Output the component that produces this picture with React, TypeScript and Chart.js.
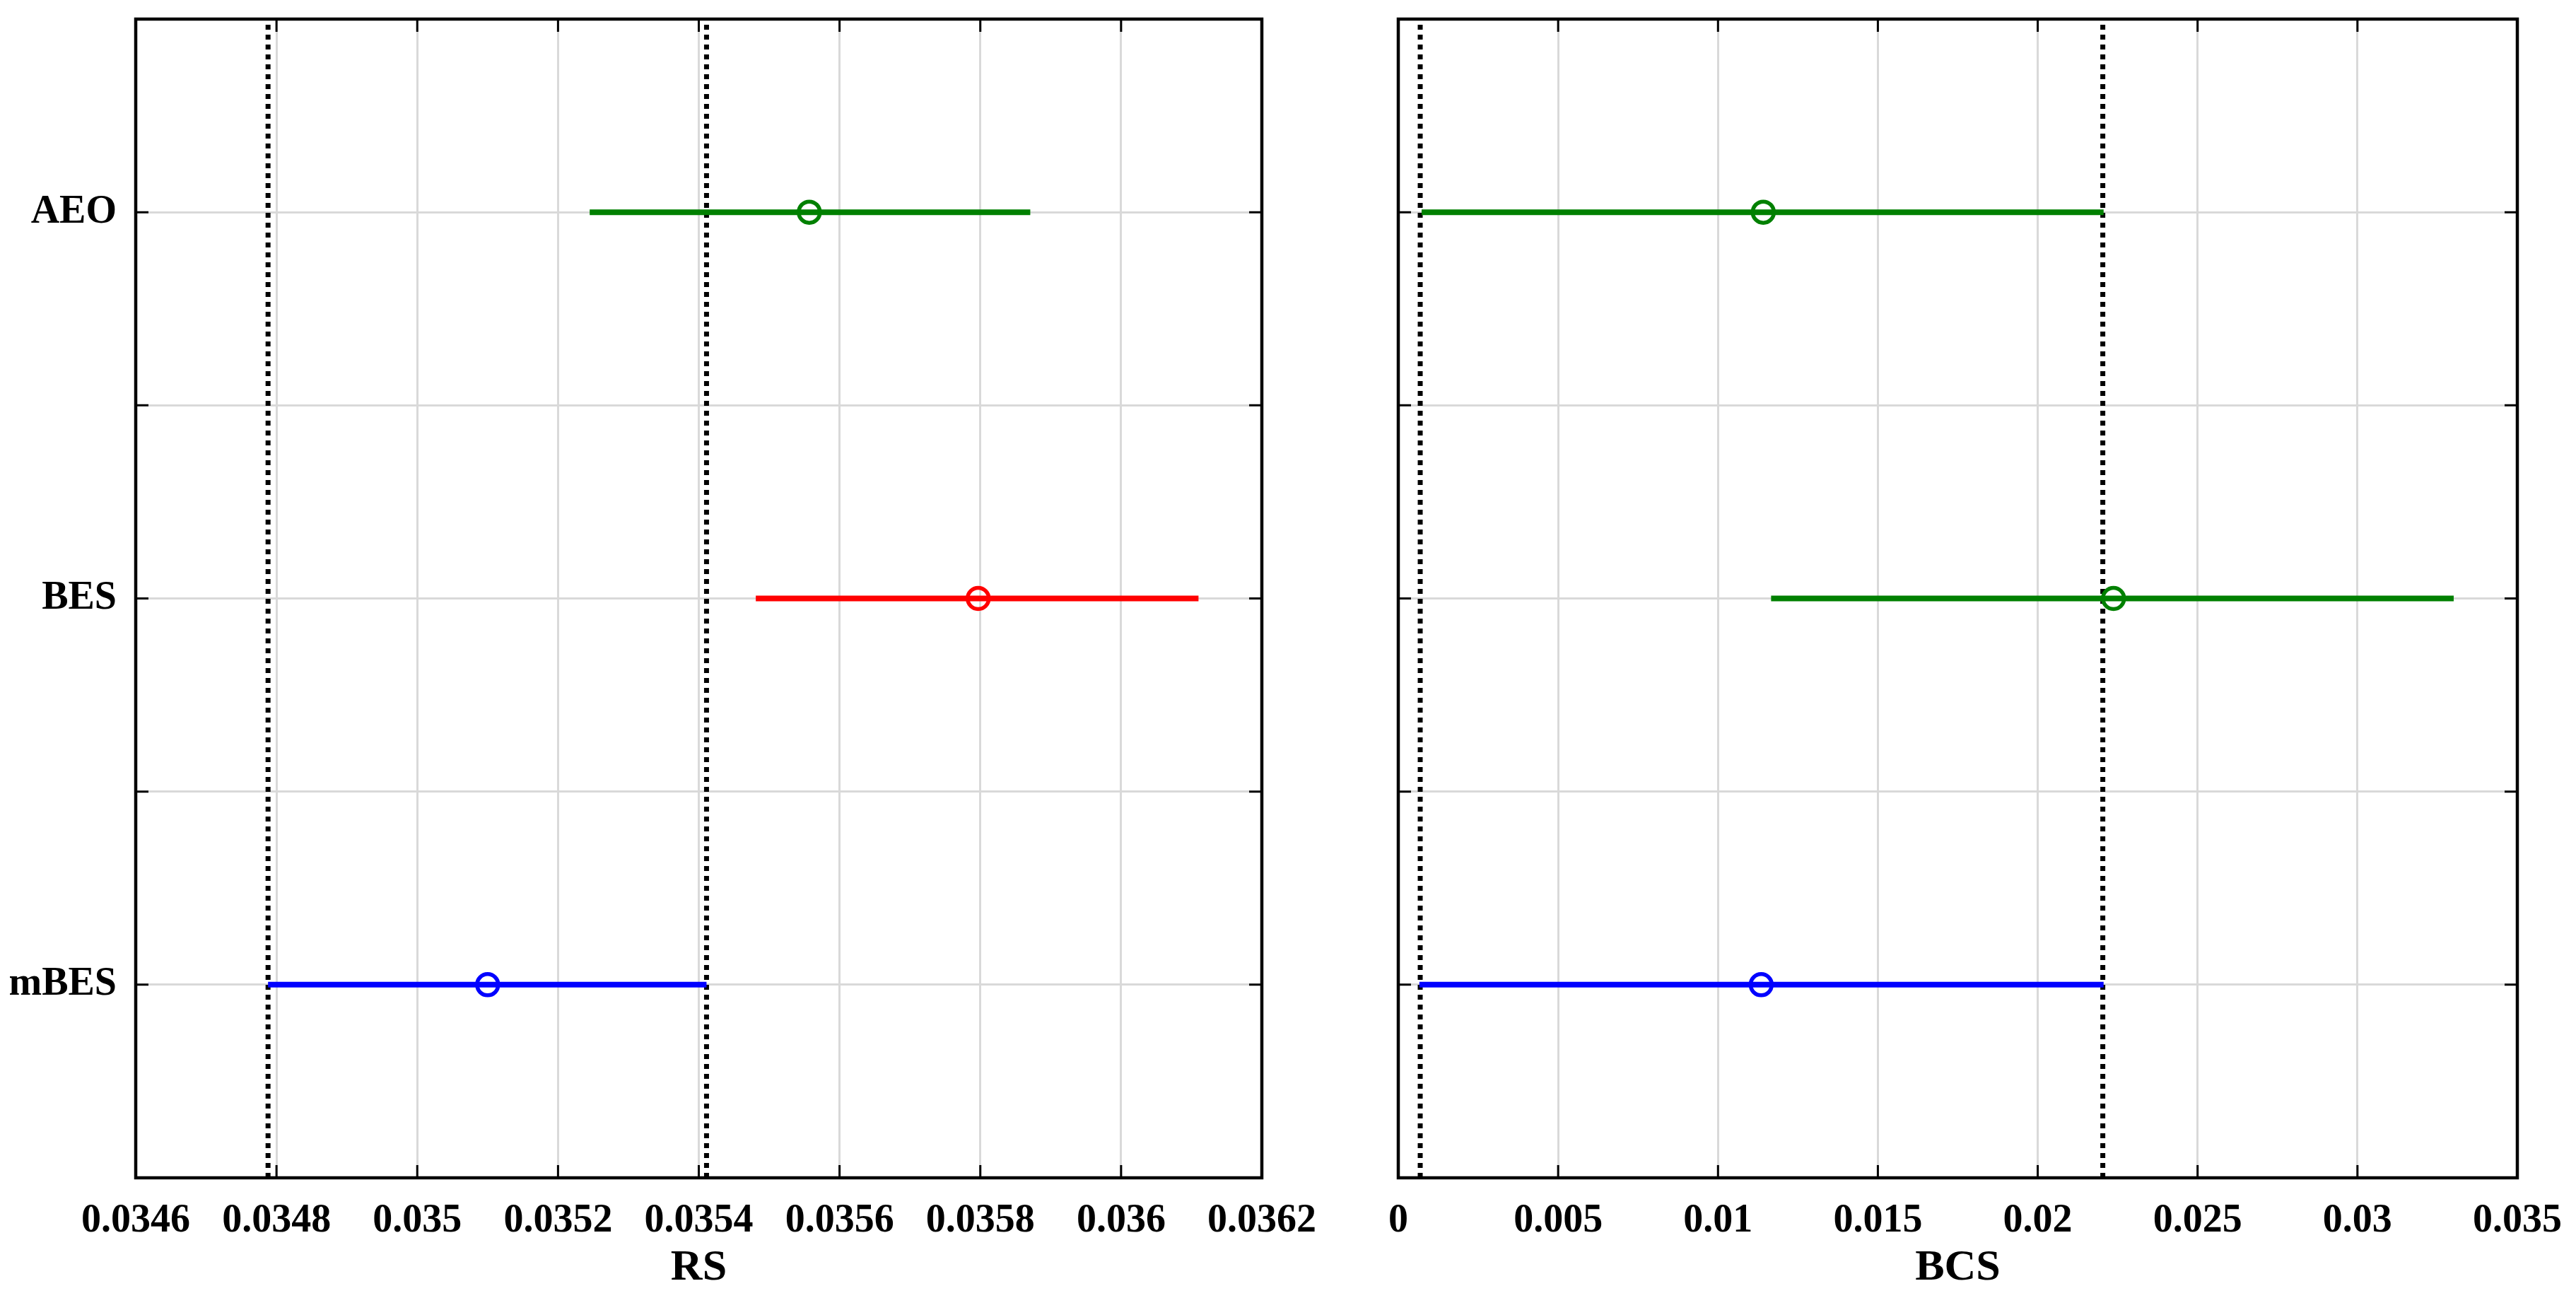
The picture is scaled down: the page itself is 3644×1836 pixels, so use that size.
import { useEffect, useRef } from 'react';
import { Chart, registerables } from 'chart.js';

Chart.register(...registerables);

// Categories (y positions: mBES = 1, BES = 2, AEO = 3)
const categories = ['mBES', 'BES', 'AEO'];
const categoryPositions = [1, 2, 3];
const yTicks = [0.5, 1, 1.5, 2, 2.5, 3, 3.5];

// RS panel
const rsLow = [0.034788, 0.035481, 0.035245];
const rsMean = [0.0351, 0.035797, 0.035557];
const rsHigh = [0.035411, 0.03611, 0.035871];
const rsColors = ['#0000ff', '#ff0000', '#008000'];
const rsBounds = [0.034788, 0.035411];
const rsTicks = [0.0346, 0.0348, 0.035, 0.0352, 0.0354, 0.0356, 0.0358, 0.036, 0.0362];
const rsTickLabels = ['0.0346', '0.0348', '0.035', '0.0352', '0.0354', '0.0356', '0.0358', '0.036', '0.0362'];

// BCS panel
const bcsLow = [0.00066, 0.01166, 0.00073];
const bcsMean = [0.01135, 0.02237, 0.011416];
const bcsHigh = [0.02206, 0.03301, 0.02206];
const bcsColors = ['#0000ff', '#008000', '#008000'];
const bcsBounds = [0.000686, 0.022035];
const bcsTicks = [0, 0.005, 0.01, 0.015, 0.02, 0.025, 0.03, 0.035];
const bcsTickLabels = ['0', '0.005', '0.01', '0.015', '0.02', '0.025', '0.03', '0.035'];

const FONT = "'Liberation Serif', 'Times New Roman', serif";

const framePlugin = {
  id: 'frame',
  afterDraw(chart: any) {
    const { ctx, chartArea: a, scales } = chart;
    const len = 18;
    ctx.save();
    ctx.strokeStyle = '#000';
    ctx.lineWidth = 3;
    ctx.beginPath();
    for (const t of scales.x.ticks) {
      const px = scales.x.getPixelForValue(t.value);
      ctx.moveTo(px, a.bottom);
      ctx.lineTo(px, a.bottom - len);
      ctx.moveTo(px, a.top);
      ctx.lineTo(px, a.top + len);
    }
    for (const t of scales.y.ticks) {
      const py = scales.y.getPixelForValue(t.value);
      ctx.moveTo(a.left, py);
      ctx.lineTo(a.left + len, py);
      ctx.moveTo(a.right, py);
      ctx.lineTo(a.right - len, py);
    }
    ctx.stroke();
    ctx.lineWidth = 4.5;
    ctx.strokeRect(a.left, a.top, a.right - a.left, a.bottom - a.top);
    ctx.restore();
  },
};

type Panel = {
  low: number[];
  mean: number[];
  high: number[];
  colors: string[];
  bounds: number[];
  ticks: number[];
  tickLabels: string[];
  title: string;
  showYLabels: boolean;
  yWidth: number;
  padRight: number;
};

function buildConfig(p: Panel): any {
  const datasets: any[] = [];
  // means (circles) drawn on top
  p.mean.forEach((m, i) => {
    datasets.push({
      data: [{ x: m, y: categoryPositions[i] }],
      showLine: false,
      pointStyle: 'circle',
      pointRadius: 15,
      pointBorderWidth: 5.5,
      pointBorderColor: p.colors[i],
      pointBackgroundColor: 'rgba(0,0,0,0)',
      order: 0,
    });
  });
  // intervals
  p.low.forEach((lo, i) => {
    datasets.push({
      data: [
        { x: lo, y: categoryPositions[i] },
        { x: p.high[i], y: categoryPositions[i] },
      ],
      showLine: true,
      borderColor: p.colors[i],
      borderWidth: 8,
      pointRadius: 0,
      borderCapStyle: 'butt',
      order: 1,
    });
  });
  // dotted bound lines
  p.bounds.forEach((b) => {
    datasets.push({
      data: [
        { x: b, y: yTicks[0] },
        { x: b, y: yTicks[yTicks.length - 1] },
      ],
      showLine: true,
      borderColor: '#000',
      borderWidth: 7,
      borderDash: [7, 7],
      borderCapStyle: 'butt',
      pointRadius: 0,
      order: 2,
    });
  });

  return {
    type: 'scatter',
    data: { datasets },
    plugins: [framePlugin],
    options: {
      animation: false,
      responsive: false,
      devicePixelRatio: 1,
      layout: { padding: { top: 27, right: p.padRight, left: 0, bottom: 0 } },
      plugins: { legend: { display: false }, tooltip: { enabled: false } },
      scales: {
        x: {
          type: 'linear',
          min: p.ticks[0],
          max: p.ticks[p.ticks.length - 1],
          afterBuildTicks: (scale: any) => {
            scale.ticks = p.ticks.map((v) => ({ value: v }));
          },
          afterFit: (scale: any) => {
            scale.height = 170;
            scale.paddingLeft = 0;
            scale.paddingRight = 0;
          },
          grid: { color: '#d9d9d9', lineWidth: 3, drawTicks: false },
          border: { display: false },
          ticks: {
            autoSkip: false,
            maxRotation: 0,
            padding: 28,
            color: '#000',
            font: { family: FONT, size: 56, weight: 'bold' },
            callback: (_v: any, i: number) => p.tickLabels[i],
          },
          title: {
            display: true,
            text: p.title,
            color: '#000',
            font: { family: FONT, size: 62, weight: 'bold' },
            padding: { top: 0, bottom: 5 },
          },
        },
        y: {
          type: 'linear',
          min: yTicks[0],
          max: yTicks[yTicks.length - 1],
          afterBuildTicks: (scale: any) => {
            scale.ticks = yTicks.map((v) => ({ value: v }));
          },
          afterFit: (scale: any) => {
            scale.width = p.yWidth;
            scale.paddingTop = 0;
            scale.paddingBottom = 0;
          },
          grid: { color: '#d9d9d9', lineWidth: 3, drawTicks: false },
          border: { display: false },
          ticks: {
            display: p.showYLabels,
            autoSkip: false,
            padding: 27,
            color: '#000',
            font: { family: FONT, size: 56, weight: 'bold' },
            callback: (v: any) => {
              const idx = categoryPositions.indexOf(Number(v));
              return idx >= 0 ? categories[idx] : '';
            },
          },
        },
      },
    },
  };
}

function PanelChart({ panel, left, width }: { panel: Panel; left: number; width: number }) {
  const ref = useRef<HTMLCanvasElement | null>(null);
  useEffect(() => {
    if (!ref.current) return;
    const chart = new Chart(ref.current, buildConfig(panel));
    return () => chart.destroy();
  }, [panel]);
  return (
    <canvas
      ref={ref}
      width={width}
      height={1836}
      style={{ position: 'absolute', left, top: 0, width, height: 1836 }}
    />
  );
}

const rsPanel: Panel = {
  low: rsLow,
  mean: rsMean,
  high: rsHigh,
  colors: rsColors,
  bounds: rsBounds,
  ticks: rsTicks,
  tickLabels: rsTickLabels,
  title: 'RS',
  showYLabels: true,
  yWidth: 192,
  padRight: 115,
};

const bcsPanel: Panel = {
  low: bcsLow,
  mean: bcsMean,
  high: bcsHigh,
  colors: bcsColors,
  bounds: bcsBounds,
  ticks: bcsTicks,
  tickLabels: bcsTickLabels,
  title: 'BCS',
  showYLabels: false,
  yWidth: 78,
  padRight: 83,
};

export default function App() {
  return (
    <div
      style={{
        position: 'absolute',
        left: 0,
        top: 0,
        width: 3644,
        height: 1836,
        background: '#fff',
        overflow: 'hidden',
      }}
    >
      <PanelChart panel={rsPanel} left={0} width={1900} />
      <PanelChart panel={bcsPanel} left={1900} width={1744} />
    </div>
  );
}
